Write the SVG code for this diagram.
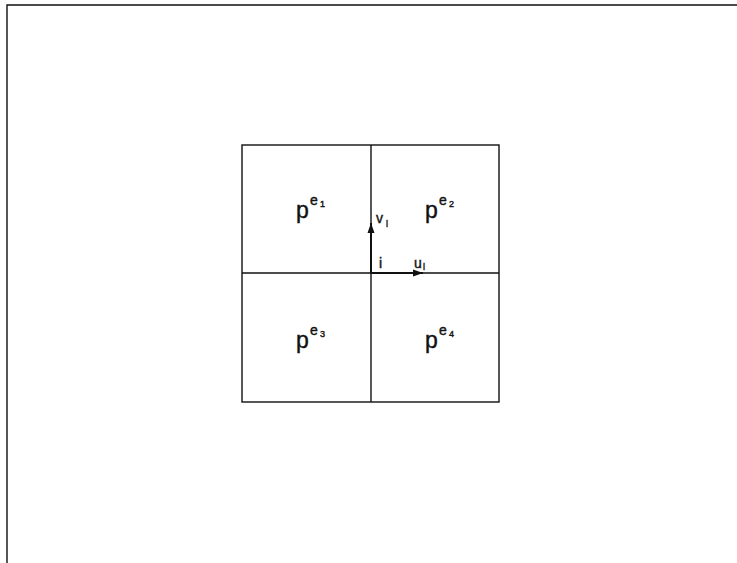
<svg xmlns="http://www.w3.org/2000/svg" width="737" height="563" viewBox="0 0 737 563">
<defs>
<style>
.ln{stroke:#111;stroke-width:1.4;fill:none}
.ar{stroke:#111;stroke-width:2;fill:none}
.t{font-family:"Liberation Sans",Arial,sans-serif;fill:#111;stroke:#111;stroke-width:0.4}
.big{font-size:23px}
.sup{font-size:14px}
.sub{font-size:9px}
.lab{font-size:14px}
</style>
<marker id="ah" viewBox="0 0 10 10" refX="10" refY="5" markerWidth="10" markerHeight="10" markerUnits="userSpaceOnUse" orient="auto">
<path d="M0,1.5 L10,5 L0,8.5 Z" fill="#111"/>
</marker>
</defs>
<rect width="737" height="563" fill="#fff"/>
<g id="frame">
<polyline class="ln" points="7,563 7,5 737,5"/>
</g>
<g id="grid">
<rect class="ln" x="242" y="145" width="257" height="257"/>
<line class="ln" x1="371" y1="145" x2="371" y2="402"/>
<line class="ln" x1="242" y1="273" x2="499" y2="273"/>
</g>
<g id="connectors">
<line class="ar" x1="371" y1="273" x2="371" y2="223" marker-end="url(#ah)"/>
<line class="ar" x1="371" y1="273" x2="423" y2="273" marker-end="url(#ah)"/>
</g>
<g id="pe1"><text class="t big" x="296" y="218">p</text><text class="t sup" x="310" y="205">e</text><text class="t sub" x="320" y="207">1</text></g>
<g id="pe2"><text class="t big" x="425" y="218">p</text><text class="t sup" x="439" y="205">e</text><text class="t sub" x="449" y="207">2</text></g>
<g id="pe3"><text class="t big" x="296" y="348">p</text><text class="t sup" x="310" y="335">e</text><text class="t sub" x="320" y="337">3</text></g>
<g id="pe4"><text class="t big" x="425" y="348">p</text><text class="t sup" x="439" y="335">e</text><text class="t sub" x="449" y="337">4</text></g>
<g id="vlabel"><text class="t lab" x="376" y="223">v</text><text class="t sub" x="386" y="227">l</text></g>
<g id="ilabel"><text class="t lab" x="379" y="268">i</text></g>
<g id="ulabel"><text class="t lab" x="414" y="268">u</text><text class="t sub" x="423" y="270">l</text></g>
</svg>
